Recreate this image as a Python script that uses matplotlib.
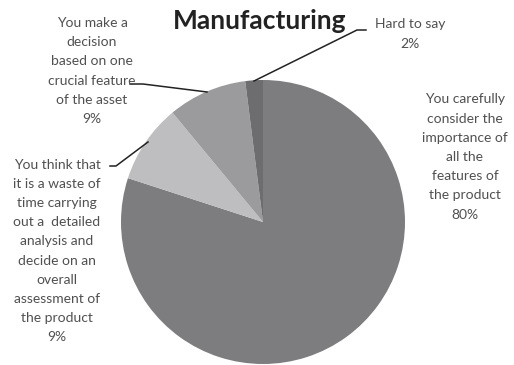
import matplotlib
matplotlib.use("Agg")
import matplotlib.pyplot as plt

title = "Manufacturing"
categories = [
    "You carefully\nconsider the\nimportance of\nall the\nfeatures of\nthe product",
    "You think that\nit is a waste of\ntime carrying\nout a  detailed\nanalysis and\ndecide on an\noverall\nassessment of\nthe product",
    "You make a\ndecision\nbased on one\ncrucial feature\nof the asset",
    "Hard to say",
]
values = [80, 9, 9, 2]
colors = ["#7d7d80", "#bebec0", "#9b9b9e", "#6d6d70"]

W, H = 514, 365
fig = plt.figure(figsize=(W / 100, H / 100), dpi=100)
ax = fig.add_axes([0, 0, 1, 1])

cx, cy, r = 263, H - 222, 142
ax.pie(values, colors=colors, startangle=90, counterclock=False,
       center=(cx, cy), radius=r, frame=True,
       wedgeprops=dict(linewidth=0))
ax.set_xlim(0, W)
ax.set_ylim(0, H)
ax.set_aspect("auto")
ax.axis("off")

font = "Lato"
fs = 10
# label centres (px from top-left)
label_pos = [(465, 157), (57, 251), (92, 71), (410, 34)]
for txt, v, (x, y) in zip(categories, values, label_pos):
    ax.text(x, H - y, f"{txt}\n{v}%", ha="center", va="center",
            fontsize=fs, family=font, color="#505050", linespacing=1.72)

# leader lines (px)
leaders = [
    [(110, 166), (116, 166), (148, 142)],
    [(130, 84), (143, 84), (207, 92)],
    [(366, 30), (357, 30), (254, 81)],
]
for pts in leaders:
    xs = [p[0] for p in pts]
    ys = [H - p[1] for p in pts]
    ax.plot(xs, ys, color="#222222", lw=1.1)

ax.text(260, H - 21, title, ha="center", va="center", fontsize=19,
        fontweight="bold", family=font, color="#222222")

fig.savefig("out.png", dpi=100)
